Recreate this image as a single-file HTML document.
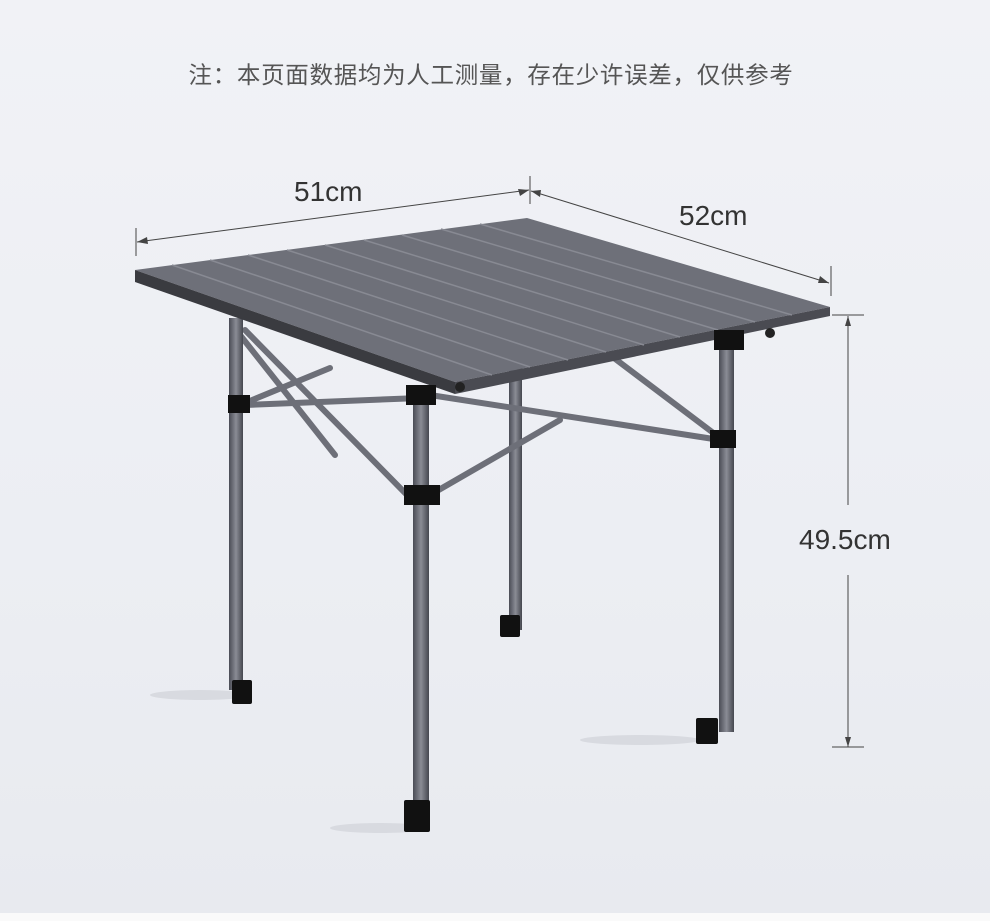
<!DOCTYPE html>
<html><head><meta charset="utf-8"><style>
html,body{margin:0;padding:0;}
body{width:990px;height:921px;overflow:hidden;background:linear-gradient(180deg,#f1f2f6 0%,#eceef3 60%,#e8eaef 100%);position:relative;font-family:"Liberation Sans","Noto Sans CJK SC",sans-serif;}
.t{position:absolute;color:#333;}
</style></head><body>
<div class="t" style="left:0;width:982px;top:56px;text-align:center;font-size:23.5px;color:#555;letter-spacing:0.7px;">注：本页面数据均为人工测量，存在少许误差，仅供参考</div>
<svg width="990" height="921" style="position:absolute;left:0;top:0">
<defs>
<linearGradient id="leg" x1="0" x2="1"><stop offset="0" stop-color="#4a4c55"/><stop offset="0.5" stop-color="#8a8c95"/><stop offset="1" stop-color="#45474f"/></linearGradient>
</defs>
<ellipse cx="200" cy="695" rx="50" ry="5" fill="#d8dae0"/>
<ellipse cx="640" cy="740" rx="60" ry="5" fill="#d8dae0"/>
<ellipse cx="380" cy="828" rx="50" ry="5" fill="#d8dae0"/>
<g stroke="#444" stroke-width="1" fill="none">
<line x1="137" y1="242" x2="529" y2="190"/>
<line x1="136" y1="228" x2="136" y2="256"/>
<line x1="530" y1="176" x2="530" y2="204"/>
<line x1="531" y1="191" x2="829" y2="283"/>
<line x1="831" y1="266" x2="831" y2="296"/>
<line x1="848" y1="316" x2="848" y2="505"/>
<line x1="848" y1="575" x2="848" y2="747"/>
<line x1="832" y1="315" x2="864" y2="315"/>
<line x1="832" y1="747" x2="864" y2="747"/>
</g>
<g fill="#444">
<polygon points="137,242 147,237 148,244"/>
<polygon points="529,190 518,189 520,196"/>
<polygon points="531,191 541,190 540,197"/>
<polygon points="829,283 818,283 820,276"/>
<polygon points="848,316 845,326 851,326"/>
<polygon points="848,747 845,737 851,737"/>
</g>
<rect x="509" y="360" width="13" height="270" fill="url(#leg)"/>
<rect x="500" y="615" width="20" height="22" fill="#111" rx="2"/>
<g stroke="#6d6f78" stroke-width="6" stroke-linecap="round">
<line x1="245" y1="330" x2="410" y2="498"/>
<line x1="240" y1="405" x2="330" y2="368"/>
<line x1="335" y1="455" x2="240" y2="335"/>
<line x1="245" y1="405" x2="420" y2="398"/>
<line x1="430" y1="395" x2="720" y2="440"/>
<line x1="610" y1="355" x2="720" y2="438"/>
<line x1="430" y1="495" x2="560" y2="420"/>
</g>
<rect x="229" y="318" width="14" height="372" fill="url(#leg)"/>
<rect x="232" y="680" width="20" height="24" fill="#111" rx="2"/>
<rect x="719" y="340" width="15" height="392" fill="url(#leg)"/>
<rect x="696" y="718" width="22" height="26" fill="#111" rx="2"/>
<polygon points="135,270 527,218 830,307 455,382" fill="#6e7079"/>
<polygon points="135,270 455,382 455,394 135,282" fill="#3a3b40"/>
<polygon points="455,382 830,307 830,316 455,394" fill="#4a4b52"/>
<g stroke="#888a93" stroke-width="1.5">
<line x1="172" y1="265" x2="492" y2="375"/>
<line x1="210" y1="260" x2="530" y2="367"/>
<line x1="248" y1="255" x2="568" y2="360"/>
<line x1="287" y1="250" x2="606" y2="352"/>
<line x1="325" y1="245" x2="644" y2="345"/>
<line x1="364" y1="240" x2="680" y2="337"/>
<line x1="402" y1="235" x2="718" y2="330"/>
<line x1="441" y1="229" x2="755" y2="322"/>
<line x1="480" y1="224" x2="792" y2="315"/>
</g>
<rect x="413" y="392" width="16" height="425" fill="url(#leg)"/>
<rect x="404" y="800" width="26" height="32" fill="#111" rx="2"/>
<g fill="#111">
<rect x="406" y="385" width="30" height="20"/>
<rect x="228" y="395" width="22" height="18"/>
<rect x="404" y="485" width="36" height="20"/>
<rect x="714" y="330" width="30" height="20"/>
<rect x="710" y="430" width="26" height="18"/>
</g>
<circle cx="460" cy="387" r="5" fill="#222"/>
<circle cx="770" cy="333" r="5" fill="#222"/>
</svg>
<div class="t" style="left:294px;top:176px;font-size:28px;">51cm</div>
<div class="t" style="left:679px;top:200px;font-size:28px;">52cm</div>
<div class="t" style="left:799px;top:524px;font-size:28px;">49.5cm</div>
<div style="position:absolute;left:0;top:913px;width:990px;height:8px;background:#fafafa;"></div>
</body></html>
